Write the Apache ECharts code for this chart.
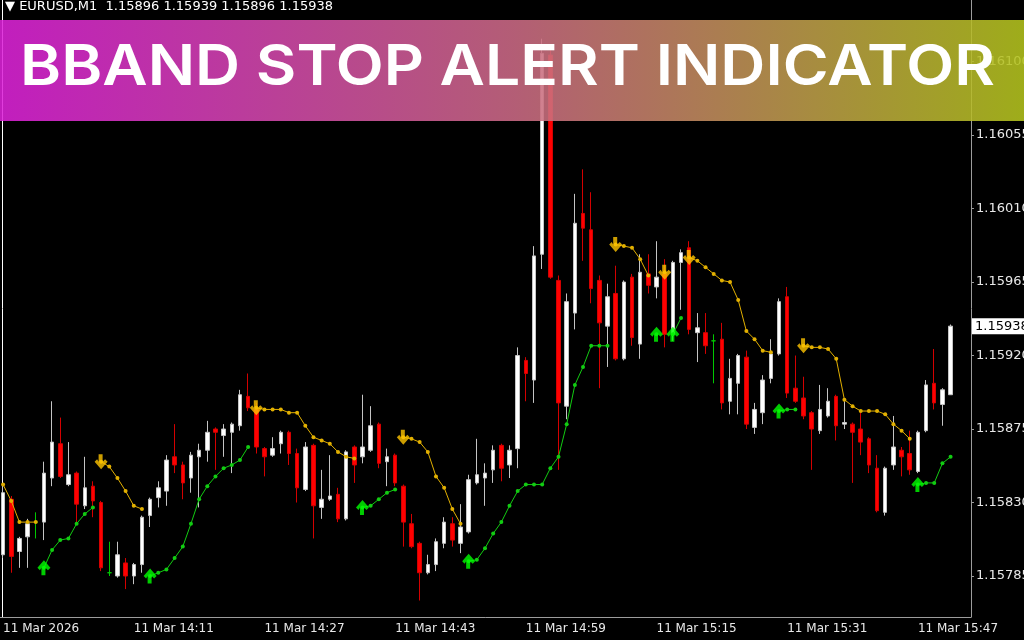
<!DOCTYPE html>
<html>
<head>
<meta charset="utf-8">
<title>BBand Stop Alert Indicator</title>
<script src="https://cdn.jsdelivr.net/npm/echarts@6/dist/echarts.min.js"></script>
<style>
  html, body { margin: 0; padding: 0; background: #000; }
  #chart { width: 1024px; height: 640px; }
</style>
</head>
<body>
<div id="chart"></div>
<script>
// EURUSD M1, bars 13:55 .. 15:51
const opens = [
  1.15798,1.15832,1.15800,1.15809,1.15818,1.15818,1.15845,1.15866,1.15841,1.15848,
  1.15828,1.15840,1.15830,1.15787,1.15785,1.15793,1.15785,1.15792,1.15822,1.15833,
  1.15837,1.15858,1.15853,1.15845,1.15858,1.15862,1.15875,1.15871,1.15873,1.15877,
  1.15895,1.15887,1.15863,1.15859,1.15866,1.15873,1.15860,1.15838,1.15865,1.15827,
  1.15832,1.15835,1.15820,1.15864,1.15858,1.15862,1.15878,1.15855,1.15859,1.15840,
  1.15817,1.15805,1.15787,1.15792,1.15805,1.15817,1.15805,1.15812,1.15842,1.15845,
  1.15850,1.15865,1.15853,1.15863,1.15917,1.15905,1.15982,1.16104,1.15966,1.15889,
  1.15946,1.16007,1.15997,1.15966,1.15938,1.15958,1.15918,1.15968,1.15927,1.15970,
  1.15962,1.15970,1.15933,1.15977,1.15986,1.15934,1.15934,1.15929,1.15930,1.15892,
  1.15903,1.15919,1.15876,1.15885,1.15906,1.15921,1.15956,1.15900,1.15894,1.15885,
  1.15874,1.15883,1.15895,1.15878,1.15878,1.15875,1.15869,1.15851,1.15824,1.15853,
  1.15862,1.15860,1.15849,1.15874,1.15903,1.15890,1.15896
];
const closes = [
  1.15836,1.15797,1.15808,1.15817,1.15818,1.15848,1.15867,1.15846,1.15847,1.15829,
  1.15839,1.15831,1.15790,1.15787,1.15798,1.15785,1.15792,1.15821,1.15832,1.15839,
  1.15856,1.15853,1.15842,1.15859,1.15862,1.15873,1.15873,1.15875,1.15878,1.15896,
  1.15888,1.15864,1.15858,1.15863,1.15873,1.15860,1.15839,1.15864,1.15828,1.15832,
  1.15834,1.15820,1.15861,1.15853,1.15864,1.15877,1.15854,1.15858,1.15842,1.15818,
  1.15803,1.15787,1.15792,1.15806,1.15818,1.15807,1.15815,1.15844,1.15847,1.15848,
  1.15862,1.15851,1.15862,1.15920,1.15909,1.15981,1.16105,1.15968,1.15891,1.15953,
  1.16001,1.15998,1.15961,1.15940,1.15956,1.15918,1.15965,1.15931,1.15971,1.15963,
  1.15968,1.15933,1.15977,1.15983,1.15936,1.15937,1.15926,1.15929,1.15891,1.15906,
  1.15920,1.15878,1.15887,1.15905,1.15921,1.15953,1.15897,1.15892,1.15883,1.15875,
  1.15887,1.15892,1.15877,1.15879,1.15873,1.15867,1.15853,1.15825,1.15851,1.15864,
  1.15858,1.15850,1.15873,1.15902,1.15891,1.15899,1.15938
];
const highs = [
  1.15840,1.15834,1.15809,1.15820,1.15824,1.15855,1.15892,1.15882,1.15867,1.15849,
  1.15858,1.15843,1.15831,1.15806,1.15806,1.15796,1.15793,1.15822,1.15833,1.15843,
  1.15859,1.15878,1.15855,1.15861,1.15866,1.15880,1.15876,1.15878,1.15879,1.15899,
  1.15909,1.15891,1.15864,1.15870,1.15874,1.15874,1.15863,1.15867,1.15866,1.15850,
  1.15859,1.15839,1.15862,1.15865,1.15896,1.15889,1.15879,1.15863,1.15860,1.15841,
  1.15823,1.15806,1.15798,1.15808,1.15821,1.15821,1.15829,1.15847,1.15869,1.15854,
  1.15865,1.15866,1.15865,1.15925,1.15919,1.15987,1.16114,1.16110,1.15969,1.15958,
  1.16019,1.16034,1.16020,1.15969,1.15964,1.15975,1.15966,1.15970,1.15982,1.15982,
  1.15990,1.15979,1.15978,1.15985,1.15990,1.15946,1.15946,1.15933,1.15940,1.15918,
  1.15921,1.15923,1.15891,1.15908,1.15930,1.15955,1.15962,1.15920,1.15907,1.15886,
  1.15902,1.15900,1.15896,1.15892,1.15879,1.15885,1.15870,1.15859,1.15852,1.15883,
  1.15864,1.15874,1.15874,1.15905,1.15924,1.15900,1.15939
];
const lows = [
  1.15796,1.15787,1.15790,1.15790,1.15808,1.15807,1.15840,1.15845,1.15840,1.15818,
  1.15826,1.15821,1.15788,1.15785,1.15784,1.15777,1.15780,1.15787,1.15815,1.15827,
  1.15828,1.15848,1.15832,1.15836,1.15827,1.15855,1.15850,1.15858,1.15848,1.15874,
  1.15886,1.15860,1.15846,1.15858,1.15860,1.15853,1.15830,1.15837,1.15808,1.15820,
  1.15831,1.15818,1.15819,1.15842,1.15854,1.15861,1.15851,1.15840,1.15840,1.15803,
  1.15802,1.15770,1.15786,1.15788,1.15802,1.15803,1.15799,1.15811,1.15841,1.15828,
  1.15842,1.15843,1.15845,1.15851,1.15892,1.15891,1.15973,1.15967,1.15850,1.15881,
  1.15936,1.15978,1.15952,1.15900,1.15913,1.15917,1.15917,1.15926,1.15918,1.15958,
  1.15955,1.15925,1.15929,1.15948,1.15933,1.15916,1.15921,1.15903,1.15887,1.15884,
  1.15884,1.15875,1.15872,1.15878,1.15903,1.15920,1.15894,1.15891,1.15881,1.15850,
  1.15872,1.15882,1.15868,1.15875,1.15842,1.15859,1.15848,1.15824,1.15822,1.15850,
  1.15846,1.15847,1.15848,1.15873,1.15887,1.15877,1.15896
];

// BBands stop levels: upper = down-trend stop (gold), lower = up-trend stop (green)
const upperStop = [
  1.15841,1.15831,1.15818,1.15818,1.15818,null,null,null,null,null,
  null,null,1.15855,1.15852,1.15845,1.15837,1.15828,1.15826,null,null,
  null,null,null,null,null,null,null,null,null,null,
  null,1.15888,1.15887,1.15887,1.15887,1.15885,1.15885,1.15877,1.15870,1.15868,
  1.15866,1.15861,1.15858,1.15857,null,null,null,null,null,1.15870,
  1.15869,1.15867,1.15861,1.15846,1.15839,1.15826,1.15817,null,null,null,
  null,null,null,null,null,null,null,null,null,null,
  null,null,null,null,null,1.15988,1.15987,1.15986,1.15979,1.15969,
  null,1.15971,null,null,1.15980,1.15978,1.15974,1.15970,1.15966,1.15965,
  1.15954,1.15935,1.15930,1.15923,1.15922,null,null,null,1.15926,1.15925,
  1.15925,1.15924,1.15918,1.15893,1.15889,1.15886,1.15886,1.15886,1.15884,1.15878,
  1.15874,1.15869,null,null,null,null,null
];
const lowerStop = [
  null,null,null,null,null,1.15790,1.15801,1.15807,1.15808,1.15817,
  1.15823,1.15827,null,null,null,null,null,null,1.15785,1.15787,
  1.15789,1.15796,1.15803,1.15817,1.15832,1.15840,1.15846,1.15851,1.15853,1.15856,
  1.15864,null,null,null,null,null,null,null,null,null,
  null,null,null,null,1.15827,1.15828,1.15832,1.15836,1.15838,null,
  null,null,null,null,null,null,null,1.15794,1.15795,1.15802,
  1.15811,1.15818,1.15828,1.15837,1.15841,1.15841,1.15841,1.15851,1.15858,1.15878,
  1.15902,1.15913,1.15926,1.15926,1.15926,null,null,null,null,null,
  1.15933,null,1.15933,1.15943,null,null,null,null,null,null,
  null,null,null,null,null,1.15886,1.15887,1.15887,null,null,
  null,null,null,null,null,null,null,null,null,null,
  null,null,1.15841,1.15842,1.15842,1.15854,1.15858
];
const sellArrows = [12, 31, 49, 75, 81, 84, 98];
const buyArrows = [5, 18, 44, 57, 80, 82, 95, 112];

const priceTicks = [1.15785, 1.15830, 1.15875, 1.15920, 1.15965, 1.16010, 1.16055, 1.16100];
const timeLabels = ['11 Mar 2026', '11 Mar 14:11', '11 Mar 14:27', '11 Mar 14:43',
                    '11 Mar 14:59', '11 Mar 15:15', '11 Mar 15:31', '11 Mar 15:47'];
const labelEvery = 16;
const emptyBars = 2; // chart shift on the right

// minute categories, 13:55 onwards
const times = [];
for (let i = 0; i < opens.length + emptyBars; i++) {
  const m = 13 * 60 + 55 + i;
  times.push(String(Math.floor(m / 60)).padStart(2, '0') + ':' + String(m % 60).padStart(2, '0'));
}

const candles = opens.map((o, i) => [o, closes[i], lows[i], highs[i]]);
const last = opens.length - 1;

const FONT = '"DejaVu Sans", sans-serif';
const ARROW_DOWN = 'path://M4,0 L8,0 L8,7.5 L10.5,5 L13,7.5 L6.5,15 L0,7.5 L2.5,5 L4,7.5 Z';
const ARROW_UP = 'path://M4,15 L8,15 L8,7.5 L10.5,10 L13,7.5 L6.5,0 L0,7.5 L2.5,10 L4,7.5 Z';

// banner text width fit
const bannerText = 'BBAND STOP ALERT INDICATOR';
const bannerFont = '600 56px Inter, "Open Sans", sans-serif';
const ctx = document.createElement('canvas').getContext('2d');
ctx.font = bannerFont;
const bannerScale = 975 / ctx.measureText(bannerText).width;

const chart = echarts.init(document.getElementById('chart'));

const option = {
  backgroundColor: '#000000',
  animation: false,
  grid: { left: -1, right: 53, top: 0, bottom: 23, outerBoundsMode: 'none', containLabel: false },
  xAxis: {
    type: 'category',
    data: times,
    boundaryGap: true,
    axisLine: { lineStyle: { color: '#9c9c9c', width: 1 } },
    axisTick: {
      alignWithLabel: true,
      length: 3,
      interval: (i) => i % labelEvery === 0,
      lineStyle: { color: '#9c9c9c' }
    },
    axisLabel: {
      interval: (i) => i % labelEvery === 0,
      formatter: (v, i) => timeLabels[i / labelEvery] || '',
      align: 'left',
      color: '#e8e8e8',
      fontFamily: FONT,
      fontSize: 12,
      margin: 6
    },
    splitLine: { show: false }
  },
  yAxis: {
    type: 'value',
    position: 'right',
    scale: true,
    min: 1.157599,
    max: 1.161377,
    splitLine: { show: false },
    axisLine: { show: true, lineStyle: { color: '#9c9c9c' } },
    axisTick: { show: true, length: 3, customValues: priceTicks, lineStyle: { color: '#9c9c9c' } },
    axisLabel: {
      customValues: priceTicks,
      formatter: (v) => v.toFixed(5),
      color: '#e8e8e8',
      fontFamily: FONT,
      fontSize: 13,
      margin: 5
    }
  },
  series: [
    {
      name: 'EURUSD',
      type: 'candlestick',
      data: candles,
      barWidth: 4,
      z: 2,
      itemStyle: {
        color: '#ffffff',
        color0: '#ff0000',
        borderColor: '#c4c4c4',
        borderColor0: '#d40000',
        borderColorDoji: '#00c800',
        borderWidth: 1
      }
    },
    {
      name: 'upper stop',
      type: 'line',
      data: upperStop,
      connectNulls: false,
      symbol: 'circle',
      symbolSize: 4,
      showAllSymbol: true,
      lineStyle: { color: '#e2b000', width: 1 },
      itemStyle: { color: '#e2b000' },
      z: 3
    },
    {
      name: 'lower stop',
      type: 'line',
      data: lowerStop,
      connectNulls: false,
      symbol: 'circle',
      symbolSize: 4,
      showAllSymbol: true,
      lineStyle: { color: '#12cc12', width: 1 },
      itemStyle: { color: '#12cc12' },
      z: 3,
      // bid price box on the price scale
      markLine: {
        silent: true,
        precision: 5,
        symbol: ['none', 'none'],
        lineStyle: { color: 'rgba(0,0,0,0)', width: 0 },
        label: {
          position: 'end',
          distance: 1,
          formatter: closes[last].toFixed(5),
          backgroundColor: '#ffffff',
          color: '#000000',
          fontFamily: FONT,
          fontSize: 13,
          padding: [2, 3, 1, 3]
        },
        data: [{ yAxis: closes[last] }]
      }
    },
    {
      name: 'sell',
      type: 'scatter',
      data: sellArrows.map((i) => [i, upperStop[i]]),
      symbol: ARROW_DOWN,
      symbolSize: [13, 15],
      itemStyle: { color: '#ffc400' },
      z: 4
    },
    {
      name: 'buy',
      type: 'scatter',
      data: buyArrows.map((i) => [i, lowerStop[i]]),
      symbol: ARROW_UP,
      symbolSize: [13, 15],
      itemStyle: { color: '#00ff00' },
      z: 4
    }
  ],
  graphic: [
    {
      type: 'line',
      z: 1,
      shape: { x1: 2.5, y1: 0, x2: 2.5, y2: 617 },
      style: { stroke: '#ffffff', lineWidth: 1 }
    },
    {
      type: 'text',
      x: 5,
      y: 0,
      z: 50,
      style: {
        text: '\u25BC EURUSD,M1  ' + [opens[last], highs[last], lows[last], closes[last]].map((v) => v.toFixed(5)).join(' '),
        font: '13px ' + FONT,
        fill: '#ffffff'
      }
    },
    {
      type: 'rect',
      z: 100,
      shape: { x: 0, y: 20, width: 1024, height: 101 },
      style: {
        opacity: 0.88,
        fill: new echarts.graphic.LinearGradient(0, 0, 1, 0, [
          { offset: 0, color: '#dc22d8' },
          { offset: 0.5, color: '#cc6a86' },
          { offset: 1, color: '#b4c41e' }
        ])
      }
    },
    {
      type: 'text',
      z: 101,
      x: 20,
      y: 68,
      scaleX: bannerScale,
      style: {
        text: bannerText,
        font: bannerFont,
        fill: '#ffffff',
        verticalAlign: 'middle'
      }
    }
  ]
};

chart.setOption(option);
</script>
</body>
</html>
